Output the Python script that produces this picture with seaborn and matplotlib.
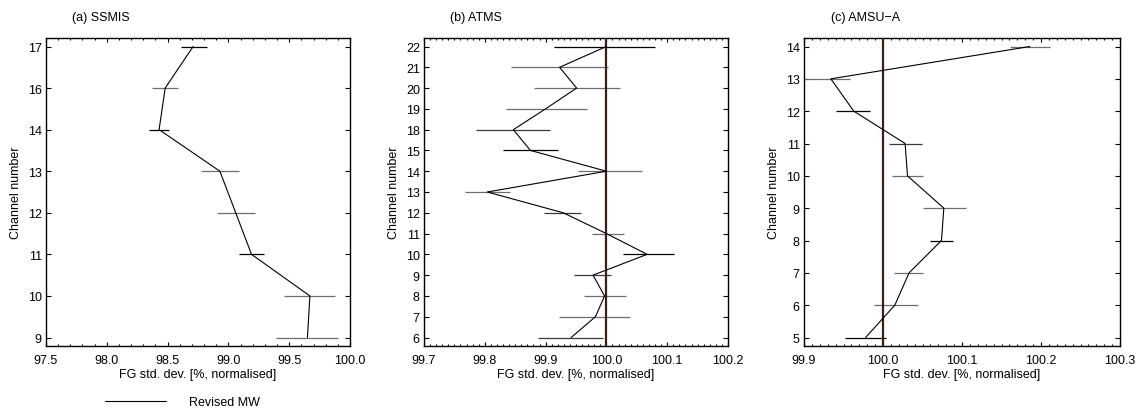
import numpy as np
import matplotlib
matplotlib.use("Agg")
import matplotlib.pyplot as plt
from matplotlib.ticker import MultipleLocator, FormatStrFormatter
import seaborn as sns

# ---------------- data ----------------
ssmis_channels = ["9", "10", "11", "12", "13", "14", "16", "17"]
ssmis_values = [99.65, 99.67, 99.19, 99.06, 98.93, 98.43, 98.48, 98.71]
ssmis_lower = [99.394, 99.454, 99.086, 98.905, 98.771, 98.345, 98.373, 98.609]
ssmis_upper = [99.901, 99.876, 99.292, 99.218, 99.086, 98.510, 98.584, 98.825]
ssmis_level = [1, 1, 0, 1, 1, 0, 1, 0]

atms_channels = ["6", "7", "8", "9", "10", "11", "12", "13", "14", "15",
                 "18", "19", "20", "21", "22"]
atms_values = [99.942, 99.982, 99.997, 99.978, 100.067, 100.0, 99.929, 99.804,
               100.0, 99.875, 99.847, 99.900, 99.951, 99.923, 100.0]
atms_lower = [99.888, 99.922, 99.963, 99.947, 100.027, 99.976, 99.897, 99.768,
              99.953, 99.830, 99.786, 99.835, 99.881, 99.843, 99.913]
atms_upper = [99.994, 100.039, 100.033, 100.007, 100.111, 100.029, 99.959, 99.841,
              100.059, 99.921, 99.908, 99.968, 100.022, 100.002, 100.080]
atms_level = [2, 1, 1, 2, 0, 1, 2, 1, 1, 0, 2, 1, 1, 1, 0]

amsua_channels = [5, 6, 7, 8, 9, 10, 11, 12, 13, 14]
amsua_values = [99.978, 100.015, 100.033, 100.074, 100.077, 100.031, 100.028,
                99.963, 99.934, 100.186]
amsua_lower = [99.952, 99.988, 100.014, 100.060, 100.050, 100.012, 100.007,
               99.941, 99.900, 100.161]
amsua_upper = [100.004, 100.044, 100.051, 100.089, 100.105, 100.050, 100.049,
               99.983, 99.958, 100.212]
amsua_level = [0, 1, 1, 0, 1, 1, 2, 0, 1, 1]

titles = ["(a) SSMIS", "(b) ATMS", "(c) AMSU\u2212A"]
xlabel = "FG std. dev. [%, normalised]"
ylabel = "Channel number"
legend_label = "Revised MW"
reference_value = 100.0

# ---------------- style ----------------
sns.set_theme(style="ticks")
plt.rcParams["font.family"] = ["Liberation Sans", "DejaVu Sans"]
plt.rcParams["font.size"] = 9
plt.rcParams["axes.linewidth"] = 1.0
for k in ["text.color", "axes.labelcolor", "xtick.color", "ytick.color",
          "axes.edgecolor", "xtick.labelcolor", "ytick.labelcolor"]:
    plt.rcParams[k] = "black"

FS = 9
bar_colors = {0: "#000000", 1: "#6e6e6e", 2: "#3a3a3a"}
ref_color = "#3b1f17"

fig = plt.figure(figsize=(11.42, 4.10), dpi=100)
W, H = 1142.0, 410.0
boxes = [(46, 304), (424, 304), (804, 316)]
top_px, bot_px = 39, 347
axes = [fig.add_axes([l / W, (H - bot_px) / H, w / W, (bot_px - top_px) / H])
        for l, w in boxes]

panels = [
    dict(labels=ssmis_channels, vals=ssmis_values, lo=ssmis_lower, hi=ssmis_upper,
         lev=ssmis_level, xlim=(97.5, 100.0), major=0.5, minor=0.1,
         categorical=True, ref=False),
    dict(labels=atms_channels, vals=atms_values, lo=atms_lower, hi=atms_upper,
         lev=atms_level, xlim=(99.7, 100.2), major=0.1, minor=0.01,
         categorical=True, ref=True),
    dict(labels=amsua_channels, vals=amsua_values, lo=amsua_lower, hi=amsua_upper,
         lev=amsua_level, xlim=(99.9, 100.3), major=0.1, minor=0.01,
         categorical=False, ref=True),
]

handle = None
for ax, p, title in zip(axes, panels, titles):
    if p["categorical"]:
        pos = np.arange(len(p["labels"]), dtype=float)
    else:
        pos = np.array(p["labels"], dtype=float)
    span = pos[-1] - pos[0]
    unit_px = (bot_px - top_px - 17.0) / span
    margin = 8.5 / unit_px
    ax.set_ylim(pos[0] - margin, pos[-1] + margin)
    ax.set_xlim(*p["xlim"])

    if p["ref"]:
        ax.axvline(reference_value, color=ref_color, lw=1.6, zorder=3)

    cols = [bar_colors[l] for l in p["lev"]]
    ax.hlines(pos, p["lo"], p["hi"], colors=cols, lw=0.9, zorder=2)
    sns.lineplot(x=p["vals"], y=pos, orient="y", sort=False, estimator=None,
                 color="black", lw=0.8, ax=ax, zorder=4, label=legend_label,
                 legend=False)
    if handle is None:
        handle = ax.get_lines()[-1]

    ax.set_yticks(pos)
    ax.set_yticklabels([str(c) for c in p["labels"]])
    ax.xaxis.set_major_locator(MultipleLocator(p["major"]))
    ax.xaxis.set_minor_locator(MultipleLocator(p["minor"]))
    ax.xaxis.set_major_formatter(FormatStrFormatter("%.1f"))
    ax.tick_params(axis="x", which="major", direction="in", top=True, bottom=True,
                   length=3.2, width=0.8, pad=5.5, labelsize=FS, color="black")
    ax.tick_params(axis="x", which="minor", direction="in", top=True, bottom=True,
                   length=1.6, width=0.8, color="black")
    ax.tick_params(axis="y", which="major", direction="in", left=True, right=True,
                   length=3.8, width=0.8, pad=3, labelsize=FS, color="black")
    ax.tick_params(axis="y", which="minor", left=False, right=False)
    for s in ax.spines.values():
        s.set_visible(True)
        s.set_color("black")
        s.set_linewidth(1.0)
    ax.set_xlabel(xlabel, fontsize=FS, labelpad=1.5)
    ax.set_ylabel(ylabel, fontsize=FS, labelpad=4)
    ax.grid(False)
    ax.text(0.087, 1.068, title, transform=ax.transAxes, ha="left", va="center",
            fontsize=FS)

fig.legend([handle], [legend_label], loc="center left",
           bbox_to_anchor=(105 / W, 1 - 403 / H), frameon=False,
           handlelength=4.9, handletextpad=1.85, borderpad=0, borderaxespad=0,
           fontsize=FS)

fig.savefig("out.png", dpi=100, facecolor="white")
